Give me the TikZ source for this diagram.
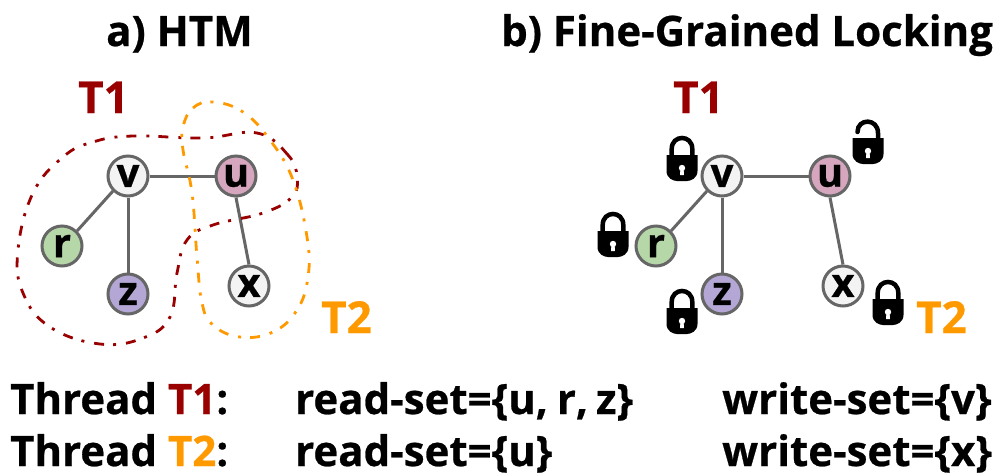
\documentclass[tikz,border=0pt]{standalone}
\usepackage{fontspec}
\setmainfont[BoldFeatures={FakeBold=0.6}]{Open Sans}
\usepackage{tikz}
\definecolor{tone}{HTML}{990000}
\definecolor{ttwo}{HTML}{FF9900}
\definecolor{vfill}{HTML}{F3F3F3}
\definecolor{ufill}{HTML}{D5A6BD}
\definecolor{rfill}{HTML}{B6D7A8}
\definecolor{zfill}{HTML}{B4A7D6}
\definecolor{edgegray}{HTML}{666666}
\tikzset{
  vertex/.style={draw=edgegray,circle,line width=3pt,minimum size=40pt,inner sep=0pt,font=\fontsize{40}{40}\bfseries\selectfont},
  edge/.style={draw=edgegray,line width=3pt},
  txt/.style={anchor=base west,inner sep=0pt,font=\fontsize{42}{42}\bfseries\selectfont},
  tlabel/.style={anchor=base west,inner sep=0pt,font=\fontsize{44}{44}\bfseries\selectfont},
  setline/.style={line width=2.8pt,dash pattern=on 10pt off 9pt on 3pt off 10pt},
  lockbody/.pic={
    \fill[black] (-15.5,-12) -- (15.5,-12) -- (15.5,4) .. controls (15.5,11) and (9,14) .. (5,14) -- (-5,14) .. controls (-9,14) and (-15.5,11) .. (-15.5,4) -- cycle;
    \fill[white] (0,1) circle (3.2pt);
    \fill[white] (-1.6,1) -- (1.6,1) -- (1.9,8) -- (-1.9,8) -- cycle;
  },
  closedlock/.pic={
    \pic {lockbody};
    \draw[black,line width=4.5pt] (-10.3,-10) -- (-10.3,-18) .. controls (-10.3,-32.7) and (10.3,-32.7) .. (10.3,-18) -- (10.3,-10);
  },
  openlock/.pic={
    \pic {lockbody};
    \draw[black,line width=4.5pt,line cap=round] (10,-10) -- (10,-17) .. controls (10,-32) and (-10.5,-32) .. (-10.5,-18);
  }
}
\begin{document}
\begin{tikzpicture}[x=1pt,y=-1pt]
  \useasboundingbox[fill=white] (0,0) rectangle (994,475);
  \node[txt] (titlea) at (106,46) {a) HTM};
  \node[txt] (titleb) at (501,46) {b) Fine-Grained Locking};
  \node[tlabel,text=tone] (tonea) at (78,113) {T1};
  \node[tlabel,text=ttwo] (ttwoa) at (321,333) {T2};
  \node[tlabel,text=tone] (toneb) at (673,113) {T1};
  \node[tlabel,text=ttwo] (ttwob) at (916,333) {T2};

  \node[vertex,fill=vfill] (va) at (128,176) {v};
  \node[vertex,fill=ufill] (ua) at (236,176) {u};
  \node[vertex,fill=rfill] (ra) at (62,246) {r};
  \node[vertex,fill=zfill] (za) at (128,294) {z};
  \node[vertex,fill=vfill] (xa) at (249,286) {x};
  \draw[edge] (va) -- (ua);
  \draw[edge] (va.south west) -- (ra.north east);
  \draw[edge] (va) -- (za);
  \draw[edge] (ua.south) -- (xa.north);

  \draw[setline,draw=tone] plot[smooth cycle,tension=0.7] coordinates {(297,177) (288,155) (257,133) (203,138) (133,136) (93,142) (63,157) (33,193) (18,250) (23,293) (50,327) (100,344) (143,338) (170,317) (177,273) (187,240) (213,225) (263,213) (292,197)};
  \draw[setline,draw=ttwo] plot[smooth cycle,tension=0.7] coordinates {(183,127) (193,108) (213,102) (243,112) (270,140) (293,180) (307,237) (308,277) (297,310) (273,332) (240,337) (213,325) (202,303) (197,257) (192,193) (183,150)};

  \node[vertex,fill=vfill] (vb) at (722,176) {v};
  \node[vertex,fill=ufill] (ub) at (830,176) {u};
  \node[vertex,fill=rfill] (rb) at (656,246) {r};
  \node[vertex,fill=zfill] (zb) at (722,294) {z};
  \node[vertex,fill=vfill] (xb) at (843,286) {x};
  \draw[edge] (vb) -- (ub);
  \draw[edge] (vb.south west) -- (rb.north east);
  \draw[edge] (vb) -- (zb);
  \draw[edge] (ub.south) -- (xb.north);

  \pic at (682,167) {closedlock};
  \pic at (613,243) {closedlock};
  \pic at (682,320) {closedlock};
  \pic at (888,311) {closedlock};
  \pic at (868,150) {openlock};

  \node[txt] (threada) at (10,414) {Thread \textcolor{tone}{T1}:};
  \node[txt] (reada) at (295,414) {read-set=\{u,\kern-2pt{} r,\kern-3pt{} z\}};
  \node[txt] (writea) at (722,414) {write-set=\{v\}};
  \node[txt] (threadb) at (10,466) {Thread \textcolor{ttwo}{T2}:};
  \node[txt] (readb) at (295,466) {read-set=\{u\}};
  \node[txt] (writeb) at (722,466) {write-set=\{x\}};
\end{tikzpicture}
\end{document}
